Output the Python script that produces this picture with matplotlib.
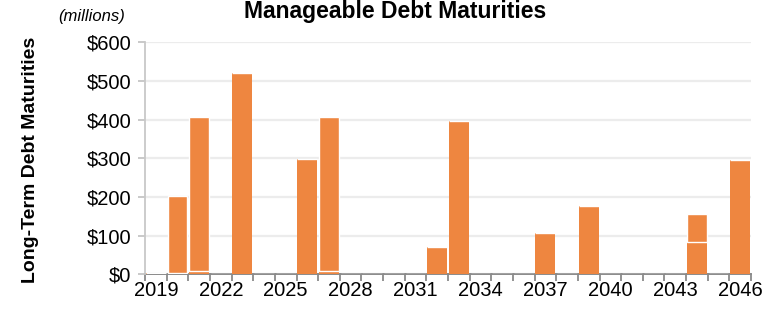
import numpy as np
import matplotlib.pyplot as plt

plt.rcParams['font.family'] = ['Liberation Sans', 'DejaVu Sans']

# maturities by year, $ millions (two tranches where the bar is split)
years = list(range(2019, 2047))
lower = {2019: 5, 2020: 5, 2021: 9, 2023: 520, 2026: 298, 2027: 9,
         2032: 72, 2033: 397, 2037: 107, 2039: 177, 2044: 85, 2046: 297}
upper = {2020: 198, 2021: 398, 2027: 398, 2044: 72}
tick_years = list(range(2019, 2047, 3))
y_ticks = [0, 100, 200, 300, 400, 500, 600]

orange = '#ee8640'

fig = plt.figure(figsize=(7.78, 3.09), dpi=100)
ax = fig.add_axes([0.1864, 0.1117, 0.7789, 0.7508])

x = np.arange(len(years))
lo = np.array([lower.get(y, 0) for y in years])
hi = np.array([upper.get(y, 0) for y in years])
ax.bar(x, lo, width=0.92, color=orange, edgecolor='none', zorder=3)
ax.bar(x, hi, bottom=lo, width=0.92, color=orange, edgecolor='white', linewidth=1.0, zorder=3)

ax.set_xlim(-0.5, len(years) - 0.5)
ax.set_ylim(0, 600)

# y axis
ax.set_yticks(y_ticks)
ax.set_yticklabels(['$' + str(v) for v in y_ticks], fontsize=14.5)
ax.yaxis.grid(True, color='#ececec', linewidth=1.6, zorder=0)
ax.tick_params(axis='y', length=5, width=1.2, color='#c0c0c0', pad=5)

# x axis: tick marks at boundaries, labels at category centres
ax.set_xticks(np.arange(len(years) + 1) - 0.5)
ax.set_xticklabels([])
ax.tick_params(axis='x', which='major', length=5, width=1.3, color='#8a8a8a')
ax.set_xticks([years.index(y) for y in tick_years], minor=True)
ax.set_xticklabels([str(y) for y in tick_years], minor=True, fontsize=14.5)
ax.tick_params(axis='x', which='minor', length=0, pad=5)

for s in ['top', 'right']:
    ax.spines[s].set_visible(False)
ax.spines['left'].set_color('#c8c8c8')
ax.spines['left'].set_linewidth(1.3)
ax.spines['bottom'].set_color('#8a8a8a')
ax.spines['bottom'].set_linewidth(1.4)
ax.spines['bottom'].set_zorder(2)

fig.text(0.508, 1 - 18 / 309, 'Manageable Debt Maturities', fontsize=16.5,
         fontweight='bold', ha='center', va='baseline')
fig.text(0.0745, 1 - 21.5 / 309, '(millions)', fontsize=12, style='italic',
         ha='left', va='baseline')
fig.text(0.039, 1 - 160 / 309, 'Long-Term Debt Maturities', fontsize=14,
         fontweight='bold', rotation=90, ha='center', va='center')

fig.savefig('out.png', dpi=100)
